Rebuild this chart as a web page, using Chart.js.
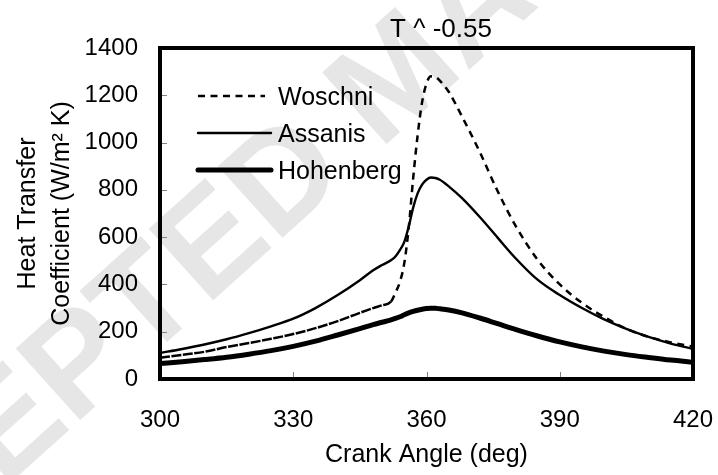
<!DOCTYPE html>
<html>
<head>
<meta charset="utf-8">
<script src="https://cdn.jsdelivr.net/npm/chart.js@4/dist/chart.umd.min.js"></script>
<style>
  html, body { margin: 0; padding: 0; background: #fff; }
  #wrap { width: 718px; height: 475px; position: relative; }
</style>
</head>
<body>
<div id="wrap"><canvas id="chart" width="718" height="475"></canvas></div>
<script>
  // Crank angle (deg)
  const angles = [300, 305, 310, 315, 320, 325, 330, 335, 340, 345,
                  348, 350, 352, 353, 354, 355, 356, 357, 358, 359,
                  360, 361, 362, 363, 365, 368, 372, 376, 380, 385,
                  390, 395, 400, 405, 410, 415, 420];

  // Heat transfer coefficient (W/m2 K)
  const woschni = [90, 102, 115, 135, 152, 170, 190, 215, 245, 280,
                   300, 312, 327, 365, 410, 490, 640, 850, 1030, 1170,
                   1250, 1280, 1278, 1262, 1215, 1110, 960, 795, 650, 505,
                   400, 322, 262, 212, 178, 155, 137];
  const assanis = [110, 127, 146, 168, 194, 223, 255, 300, 355, 418,
                   460, 482, 502, 518, 545, 580, 645, 725, 785, 822,
                   843, 852, 850, 843, 815, 765, 685, 598, 512, 420,
                   355, 300, 252, 212, 178, 150, 127];
  const hohenberg = [65, 73, 82, 92, 105, 120, 138, 160, 186, 213,
                     230, 240, 250, 256, 263, 272, 280, 286, 291, 295,
                     298, 299, 299, 297, 292, 280, 258, 234, 210, 182,
                     157, 136, 118, 103, 91, 80, 71];

  const xTicks = [300, 330, 360, 390, 420];
  const yTicks = [0, 200, 400, 600, 800, 1000, 1200, 1400];
  const seriesNames = ['Woschni', 'Assanis', 'Hohenberg'];
  const chartTitle = 'T ^ -0.55';
  const watermark = 'ACCEPTED MANUSCRIPT';

  const FONT = "'Liberation Sans', Arial, sans-serif";
  const pts = vals => angles.map((a, i) => ({ x: a, y: vals[i] }));

  // Light watermark behind everything
  const backdrop = {
    id: 'backdrop',
    beforeDraw(chart) {
      const ctx = chart.ctx;
      ctx.save();
      ctx.fillStyle = '#fff';
      ctx.fillRect(0, 0, chart.width, chart.height);
      ctx.translate(400, 80);
      ctx.rotate(-42 * Math.PI / 180);
      ctx.font = 'bold 140px ' + FONT;
      ctx.fillStyle = '#e6e6e6';
      ctx.textAlign = 'center';
      ctx.textBaseline = 'middle';
      ctx.fillText(watermark, 0, 0);
      ctx.restore();
    }
  };

  // Frame, inward ticks, legend and title
  const decor = {
    id: 'decor',
    afterDraw(chart) {
      const ctx = chart.ctx;
      const a = chart.chartArea;
      const xs = chart.scales.x, ys = chart.scales.y;
      ctx.save();

      ctx.strokeStyle = '#808080';
      ctx.lineWidth = 1;
      ctx.beginPath();
      yTicks.slice(1, -1).forEach(v => {
        const y = Math.round(ys.getPixelForValue(v)) + 0.5;
        ctx.moveTo(a.left, y); ctx.lineTo(a.left + 7, y);
      });
      xTicks.slice(1, -1).forEach(v => {
        const x = Math.round(xs.getPixelForValue(v)) + 0.5;
        ctx.moveTo(x, a.bottom); ctx.lineTo(x, a.bottom - 7);
      });
      ctx.stroke();

      ctx.strokeStyle = '#000';
      ctx.lineWidth = 4;
      ctx.strokeRect(a.left, a.top, a.right - a.left, a.bottom - a.top);

      // legend
      const rows = [96, 133, 170];
      chart.data.datasets.forEach((ds, i) => {
        ctx.beginPath();
        ctx.lineWidth = ds.borderWidth;
        ctx.setLineDash(i === 0 ? [7, 5.5] : []);
        ctx.lineCap = i === 0 ? 'butt' : 'round';
        ctx.moveTo(198, rows[i]);
        ctx.lineTo(i === 0 ? 265 : 271, rows[i]);
        ctx.stroke();
        ctx.setLineDash([]);
        ctx.fillStyle = '#000';
        ctx.font = '25px ' + FONT;
        ctx.textAlign = 'left';
        ctx.textBaseline = 'alphabetic';
        ctx.fillText(ds.label, 278, rows[i] + 9);
      });

      ctx.font = '26px ' + FONT;
      ctx.textAlign = 'center';
      ctx.fillText(chartTitle, 441, 37);
      ctx.restore();
    }
  };

  new Chart(document.getElementById('chart'), {
    type: 'line',
    data: {
      datasets: [
        {
          label: seriesNames[0],
          data: pts(woschni),
          borderColor: '#000',
          borderWidth: 2.5,
          segment: {
            borderDash: ctx => ctx.p0.parsed.x < 352 ? [10, 1.5] : [7, 5.5]
          }
        },
        {
          label: seriesNames[1],
          data: pts(assanis),
          borderColor: '#000',
          borderWidth: 2.4
        },
        {
          label: seriesNames[2],
          data: pts(hohenberg),
          borderColor: '#000',
          borderWidth: 5
        }
      ]
    },
    options: {
      responsive: false,
      animation: false,
      events: [],
      elements: {
        point: { radius: 0 },
        line: { cubicInterpolationMode: 'monotone', fill: false }
      },
      layout: { padding: { top: 48, right: 25, left: 0, bottom: 0 } },
      plugins: {
        legend: { display: false },
        title: { display: false },
        tooltip: { enabled: false }
      },
      scales: {
        x: {
          type: 'linear',
          min: 300,
          max: 420,
          afterBuildTicks: s => { s.ticks = xTicks.map(v => ({ value: v })); },
          afterFit: s => { s.height = 96; s.paddingLeft = 0; s.paddingRight = 0; },
          grid: { drawOnChartArea: false, drawTicks: false },
          border: { display: false },
          ticks: {
            color: '#000', font: { family: FONT, size: 24 }, padding: 27, maxRotation: 0,
            callback: v => String(v)
          },
          title: {
            display: true,
            text: 'Crank Angle (deg)',
            color: '#000',
            font: { family: FONT, size: 25 },
            padding: { top: 0, bottom: 5 }
          }
        },
        y: {
          min: 0,
          max: 1400,
          afterBuildTicks: s => { s.ticks = yTicks.map(v => ({ value: v })); },
          afterFit: s => { s.width = 160; },
          grid: { drawOnChartArea: false, drawTicks: false },
          border: { display: false },
          ticks: {
            color: '#000', font: { family: FONT, size: 24 }, padding: 22,
            callback: v => String(v)
          },
          title: {
            display: true,
            text: ['Heat Transfer', 'Coefficient (W/m\u00B2 K)'],
            color: '#000',
            font: { family: FONT, size: 25, lineHeight: 1.36 },
            padding: { top: 11, bottom: 0 }
          }
        }
      }
    },
    plugins: [backdrop, decor]
  });
</script>
</body>
</html>
